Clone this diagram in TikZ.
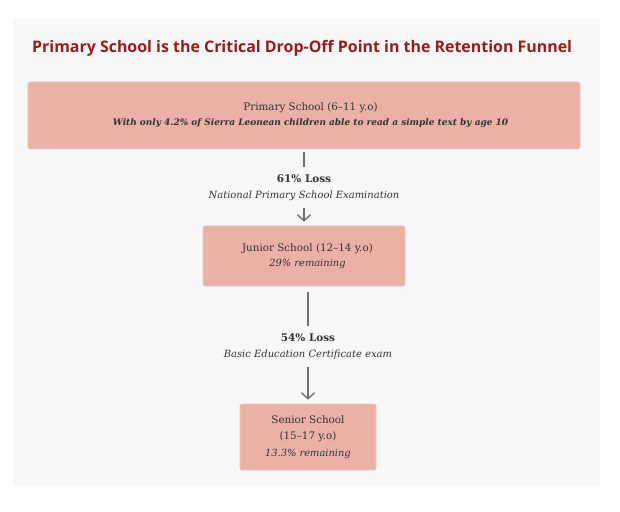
\documentclass[tikz,border=0pt]{standalone}
\usepackage{fontspec}
\setmainfont{DejaVu Serif}
\newfontfamily\titlefont{Open Sans}
\usetikzlibrary{arrows.meta}
\definecolor{panelbg}{HTML}{F8F8F8}
\definecolor{boxfill}{HTML}{EBB0A6}
\definecolor{boxline}{HTML}{F0C4BC}
\definecolor{titlered}{HTML}{9A1B1B}
\definecolor{txt}{HTML}{333333}
\definecolor{arrowgray}{HTML}{707070}
\begin{document}
\begin{tikzpicture}[x=1bp,y=-1bp,
  stage/.style={draw=boxline, fill=boxfill, rounded corners=2bp, line width=0.6bp,
    align=center, text=txt, inner sep=0pt},
  losslabel/.style={align=center, text=txt, inner sep=0pt, minimum height=41bp},
  flow/.style={draw=arrowgray, line width=1.4bp},
  tight/.style={font=\fontsize{10}{15}\selectfont},
  loose/.style={font=\fontsize{10}{16.5}\selectfont}
]
\useasboundingbox (0,0) rectangle (620,512);
\fill[white] (0,0) rectangle (620,512);
\fill[panelbg] (13,19) rectangle (600,486);
\node[anchor=west, text=titlered, inner sep=0pt,
  font=\titlefont\bfseries\fontsize{16}{19}\selectfont] (title) at (32,48.5)
  {Primary School is the Critical Drop-Off Point in the Retention Funnel};

\node[stage, tight, minimum width=552bp, minimum height=67bp] (primary) at (304,115.5)
  {\hspace*{13bp}{\fontsize{10.4}{15}\selectfont Primary School (6–11 y.o)}\\
   \hspace*{13bp}{\fontsize{9}{15}\selectfont\bfseries\itshape With only 4.2\% of Sierra Leonean children able to read a simple text by age 10}};
\node[losslabel, loose] (loss1) at (304,187.5)
  {{\fontsize{10.5}{16.5}\selectfont\bfseries 61\% Loss}\\
   {\fontsize{10}{16.5}\selectfont\itshape National Primary School Examination}};
\node[stage, tight, minimum width=202bp, minimum height=60bp] (junior) at (304,256)
  {\hspace*{7bp}{\fontsize{10.4}{15}\selectfont Junior School (12–14 y.o)}\\
   \hspace*{7bp}{\fontsize{9.9}{15}\selectfont\itshape 29\% remaining}};
\node[losslabel, loose] (loss2) at (308,346.5)
  {{\fontsize{10.5}{16.5}\selectfont\bfseries 54\% Loss}\\
   {\fontsize{10}{16.5}\selectfont\itshape Basic Education Certificate exam}};
\node[stage, loose, minimum width=136bp, minimum height=66bp] (senior) at (308,437)
  {{\fontsize{10.4}{16.5}\selectfont Senior School}\\
   {\fontsize{10.4}{16.5}\selectfont (15–17 y.o)}\\
   {\fontsize{9.9}{16.5}\selectfont\itshape 13.3\% remaining}};

\draw[flow, shorten <=3bp] (primary.south -| loss1) -- (loss1.north);
\draw[flow, -{Straight Barb[length=6bp,width=13bp]}, shorten >=4bp] (loss1.south) -- (junior.north);
\draw[flow, shorten <=6bp] (junior.south -| loss2) -- (loss2.north);
\draw[flow, -{Straight Barb[length=6bp,width=13bp]}, shorten >=4bp] (loss2.south) -- (senior.north);
\end{tikzpicture}
\end{document}
